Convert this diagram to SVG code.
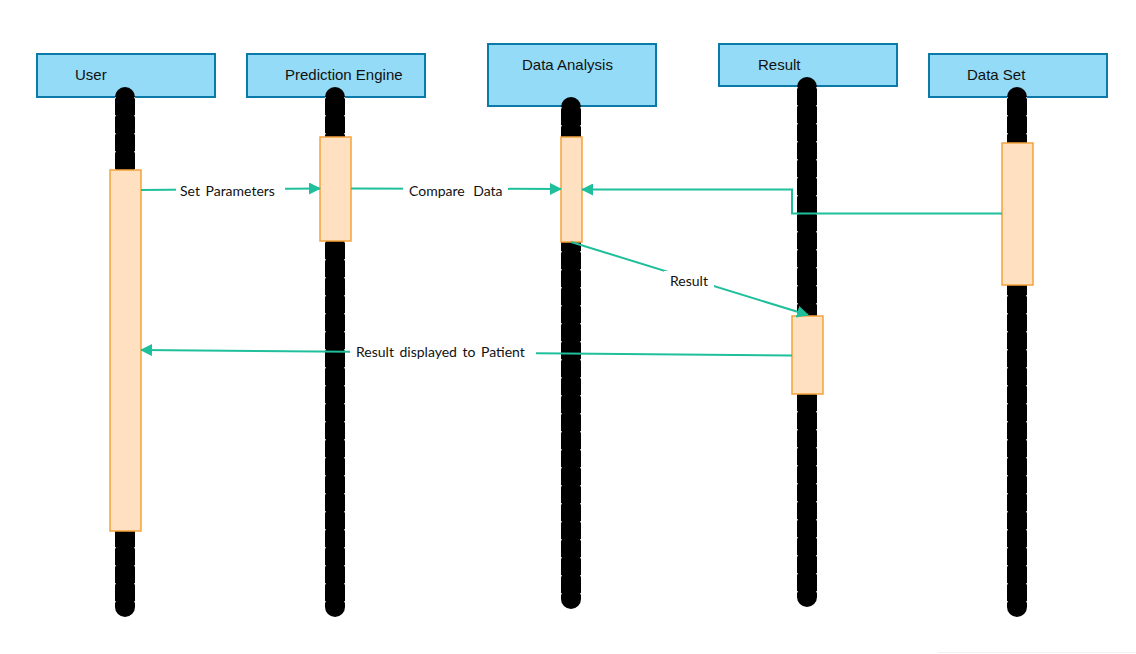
<svg xmlns="http://www.w3.org/2000/svg" width="1136" height="654" viewBox="0 0 1136 654">
<defs>
<style>
.hdr{fill:#94dbf7;stroke:#0b7aa8;stroke-width:2}
.hdrt{font-family:"Liberation Sans",Arial,sans-serif;font-size:15px;fill:#111}
.life{stroke:#000;stroke-width:20;stroke-linecap:round;fill:none}
.notch{stroke:#bbb;stroke-width:1;stroke-dasharray:1.5 16.5;fill:none}
.act{fill:#ffe1c1;stroke:#f5a23d;stroke-width:1.5}
.msg{stroke:#1fbf9c;stroke-width:2;fill:none}
.lbl{font-family:Lato,"Open Sans",sans-serif;font-size:14px;fill:#111;word-spacing:2px}
.lblbg{fill:#fff}
</style>
<marker id="ah" viewBox="0 0 12 12" refX="11" refY="6" markerWidth="12" markerHeight="12" markerUnits="userSpaceOnUse" orient="auto">
<path d="M0,0 L12,6 L0,12 Z" fill="#1fbf9c"/>
</marker>
</defs>
<rect width="1136" height="654" fill="#fff"/>
<line x1="938" y1="652.5" x2="1136" y2="652.5" stroke="#f2f2f2" stroke-width="1"/>

<g id="user">
<rect class="hdr" x="37" y="54" width="178" height="43"/>
<text class="hdrt" x="75" y="80">User</text>
<line class="life" x1="125" y1="97" x2="125" y2="607"/>
<path class="notch" d="M115.5,97 V607 M134.5,97 V607"/>
<rect class="act" x="110" y="170" width="31" height="361"/>
</g>

<g id="prediction-engine">
<rect class="hdr" x="247" y="54" width="178" height="43"/>
<text class="hdrt" x="285" y="80">Prediction Engine</text>
<line class="life" x1="335" y1="97" x2="335" y2="607"/>
<path class="notch" d="M325.5,97 V607 M344.5,97 V607"/>
<rect class="act" x="320" y="137" width="31" height="104"/>
</g>

<g id="data-analysis">
<rect class="hdr" x="488" y="44" width="168" height="62"/>
<text class="hdrt" x="522" y="70">Data Analysis</text>
<line class="life" x1="571" y1="107" x2="571" y2="599"/>
<path class="notch" d="M561.5,107 V599 M580.5,107 V599"/>
<rect class="act" x="561" y="137" width="21" height="105"/>
</g>

<g id="result">
<rect class="hdr" x="719" y="44" width="178" height="42"/>
<text class="hdrt" x="758" y="70">Result</text>
<line class="life" x1="807" y1="87" x2="807" y2="597"/>
<path class="notch" d="M797.5,87 V597 M816.5,87 V597"/>
<rect class="act" x="792" y="316" width="31" height="78"/>
</g>

<g id="data-set">
<rect class="hdr" x="929" y="54" width="178" height="43"/>
<text class="hdrt" x="967" y="80">Data Set</text>
<line class="life" x1="1017" y1="97" x2="1017" y2="607"/>
<path class="notch" d="M1007.5,97 V607 M1026.5,97 V607"/>
<rect class="act" x="1002" y="143" width="31" height="142"/>
</g>

<g id="connectors">
<line class="msg" x1="141" y1="190" x2="320" y2="188.5" marker-end="url(#ah)"/>
<rect class="lblbg" x="176" y="180" width="109" height="20"/>
<text class="lbl" x="180" y="196">Set Parameters</text>

<line class="msg" x1="351" y1="188.5" x2="561" y2="189" marker-end="url(#ah)"/>
<rect class="lblbg" x="403" y="180" width="105" height="20"/>
<text class="lbl" x="409" y="196" style="word-spacing:5px">Compare Data</text>

<polyline class="msg" points="1002,213.5 792,213.5 792,189.5 582,189.5" marker-end="url(#ah)"/>

<line class="msg" x1="571" y1="242" x2="808" y2="315" marker-end="url(#ah)"/>
<rect class="lblbg" x="664" y="271" width="50" height="20"/>
<text class="lbl" x="670" y="286">Result</text>

<line class="msg" x1="792" y1="355.5" x2="141" y2="350" marker-end="url(#ah)"/>
<rect class="lblbg" x="350" y="341" width="186" height="22"/>
<text class="lbl" x="356" y="357">Result displayed to Patient</text>
</g>
</svg>
